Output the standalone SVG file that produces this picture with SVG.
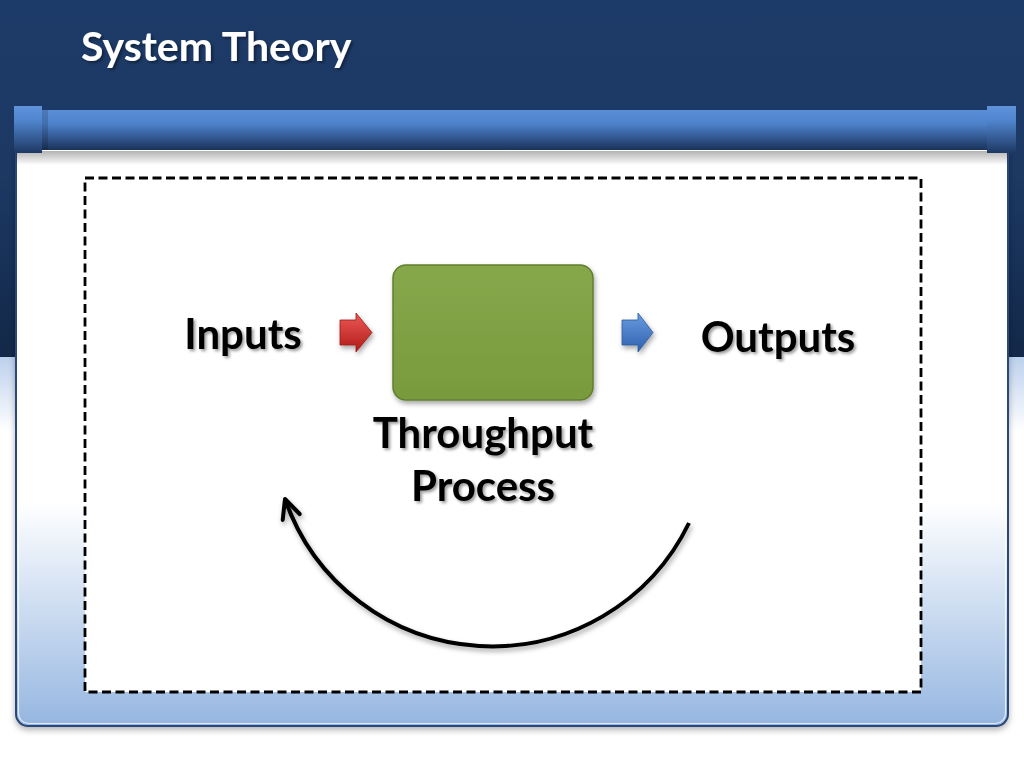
<svg xmlns="http://www.w3.org/2000/svg" width="1024" height="768" viewBox="0 0 1024 768">
  <defs>
    <linearGradient id="bgTop" x1="0" y1="0" x2="0" y2="1">
      <stop offset="0" stop-color="#1d3b68"/>
      <stop offset="0.5" stop-color="#1c3863"/>
      <stop offset="1" stop-color="#132848"/>
    </linearGradient>
    <linearGradient id="bgBottom" x1="0" y1="0" x2="0" y2="1">
      <stop offset="0" stop-color="#bcd0ec"/>
      <stop offset="0.18" stop-color="#ffffff"/>
      <stop offset="1" stop-color="#ffffff"/>
    </linearGradient>
    <linearGradient id="frameFill" x1="0" y1="0" x2="0" y2="1">
      <stop offset="0" stop-color="#ffffff"/>
      <stop offset="0.62" stop-color="#ffffff"/>
      <stop offset="1" stop-color="#95b6e1"/>
    </linearGradient>
    <linearGradient id="bar" x1="0" y1="0" x2="0" y2="1">
      <stop offset="0" stop-color="#5a8fd8"/>
      <stop offset="0.35" stop-color="#4d82cb"/>
      <stop offset="1" stop-color="#1a325a"/>
    </linearGradient>
    <linearGradient id="cap" x1="0" y1="0" x2="0" y2="1">
      <stop offset="0" stop-color="#5f92da"/>
      <stop offset="0.3" stop-color="#5086cf"/>
      <stop offset="1" stop-color="#1e3863"/>
    </linearGradient>
    <linearGradient id="barShadow" x1="0" y1="0" x2="0" y2="1">
      <stop offset="0" stop-color="#000" stop-opacity="0.3"/>
      <stop offset="1" stop-color="#000" stop-opacity="0"/>
    </linearGradient>
    <linearGradient id="green" x1="0" y1="0" x2="0" y2="1">
      <stop offset="0" stop-color="#86a74a"/>
      <stop offset="1" stop-color="#799a3d"/>
    </linearGradient>
    <linearGradient id="red" x1="0" y1="0" x2="0" y2="1">
      <stop offset="0" stop-color="#ec5a55"/>
      <stop offset="1" stop-color="#b01a18"/>
    </linearGradient>
    <linearGradient id="blue" x1="0" y1="0" x2="0" y2="1">
      <stop offset="0" stop-color="#6a9be0"/>
      <stop offset="1" stop-color="#2e62ad"/>
    </linearGradient>
    <filter id="txtShadow" x="-10%" y="-20%" width="130%" height="150%">
      <feDropShadow dx="2" dy="2" stdDeviation="1.5" flood-color="#000" flood-opacity="0.4"/>
    </filter>
    <filter id="boxShadow" x="-10%" y="-10%" width="130%" height="130%">
      <feDropShadow dx="1.5" dy="3" stdDeviation="2.5" flood-color="#000" flood-opacity="0.35"/>
    </filter>
    <filter id="frameShadow" x="-5%" y="-5%" width="110%" height="110%">
      <feDropShadow dx="0" dy="3" stdDeviation="3" flood-color="#000" flood-opacity="0.3"/>
    </filter>
    <marker id="openHead" markerUnits="userSpaceOnUse" markerWidth="40" markerHeight="40" viewBox="-25 -20 30 40" refX="0" refY="0" orient="auto">
      <path d="M -19 -9 L 0 0 L -19 9" fill="none" stroke="#000" stroke-width="4" stroke-linecap="round" stroke-linejoin="round"/>
    </marker>
    <style>
      .label { font-family: Lato, "Liberation Sans", sans-serif; font-weight: bold; fill: #000; }
      .title { font-family: Lato, "Liberation Sans", sans-serif; font-weight: bold; fill: #fff; font-size: 41px; }
    </style>
  </defs>

  <!-- background -->
  <g id="background">
    <rect x="0" y="0" width="1024" height="357" fill="url(#bgTop)"/>
    <rect x="0" y="357" width="1024" height="411" fill="url(#bgBottom)"/>
  </g>

  <!-- title -->
  <g id="title">
    <text class="title" x="81" y="61" filter="url(#txtShadow)">System Theory</text>
  </g>

  <!-- frame -->
  <g id="frame">
    <rect x="16" y="140" width="992" height="586" rx="12" ry="12" fill="url(#frameFill)" stroke="#2b4a7a" stroke-width="2" filter="url(#frameShadow)"/>
    <rect x="18.5" y="145" width="987" height="578.5" rx="10" ry="10" fill="none" stroke="#ffffff" stroke-opacity="0.7" stroke-width="1.2"/>
    <rect x="16" y="151" width="992" height="14" fill="url(#barShadow)"/>
  </g>

  <!-- top rod -->
  <g id="rod">
    <rect x="42" y="110" width="945" height="40" fill="url(#bar)"/>
    <rect x="14" y="106" width="28" height="47" fill="url(#cap)"/>
    <rect x="987" y="106" width="29" height="47" fill="url(#cap)"/>
    <rect x="42" y="110" width="6" height="40" fill="#000" fill-opacity="0.15"/>
  </g>

  <!-- dashed system boundary -->
  <g id="boundary">
    <rect x="85" y="178" width="836" height="514" fill="#ffffff" stroke="#000" stroke-width="2.8" stroke-dasharray="9 4.5"/>
  </g>

  <!-- nodes -->
  <g id="inputs">
    <text class="label" x="243" y="349" font-size="42" text-anchor="middle" filter="url(#txtShadow)">Inputs</text>
  </g>

  <g id="process">
    <rect x="393" y="265" width="200" height="135" rx="13" ry="13" fill="url(#green)" stroke="#617f2e" stroke-width="1.5" filter="url(#boxShadow)"/>
    <text class="label" x="483" y="448" font-size="42" text-anchor="middle" filter="url(#txtShadow)">Throughput</text>
    <text class="label" x="483" y="501" font-size="42" text-anchor="middle" filter="url(#txtShadow)">Process</text>
  </g>

  <g id="outputs">
    <text class="label" x="778" y="352" font-size="42" text-anchor="middle" filter="url(#txtShadow)">Outputs</text>
  </g>

  <!-- connectors -->
  <g id="connectors">
    <path d="M340 320 L356 320 L356 313 L372 332.5 L356 352 L356 345 L340 345 Z" fill="url(#red)" stroke="#9a1a18" stroke-width="0.8" filter="url(#boxShadow)"/>
    <path d="M622 320 L638 320 L638 313 L653 332.5 L638 352 L638 345 L622 345 Z" fill="url(#blue)" stroke="#2c5a9c" stroke-width="0.8" filter="url(#boxShadow)"/>
    <path d="M 689 523 A 219 219 0 0 1 285 499" fill="none" stroke="#000" stroke-width="4" marker-end="url(#openHead)" filter="url(#boxShadow)"/>
  </g>
</svg>
